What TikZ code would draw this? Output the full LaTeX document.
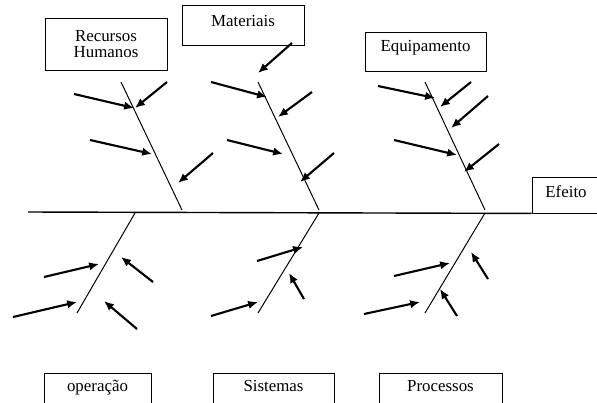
\documentclass[tikz,border=0pt]{standalone}
\usepackage{fontspec}
\setmainfont{Liberation Serif}
\usetikzlibrary{arrows.meta}

\tikzset{
    box/.style={draw, line width=0.6pt, rectangle, align=center, inner sep=0pt, font=\fontsize{12}{11.5}\selectfont},
    bone/.style={line width=0.7pt},
    spine/.style={line width=1pt},
    cause/.style={line width=1.5pt, -{Latex[length=7pt, width=6pt]}},
}

\begin{document}
\begin{tikzpicture}[x=0.025cm, y=-0.025cm]
    \useasboundingbox (0, 0) rectangle (597, 402);

    \node[box, minimum width=3.05cm, minimum height=1.3cm] at (106, 44) (rh) {Recursos\\Humanos};
    \node[box, minimum width=3.05cm, minimum height=1.0cm, text depth=0.2cm] at (243, 25) (mat) {Materiais};
    \node[box, minimum width=3.025cm, minimum height=0.975cm, text depth=0.3cm] at (425.5, 51.5) (eq) {Equipamento};
    \node[box, minimum width=1.7cm, minimum height=0.9cm, text depth=0.15cm] at (566, 195) (ef) {Efeito};
    \node[box, minimum width=2.675cm, minimum height=0.8cm, text depth=0.15cm] at (97.5, 389) (op) {operação};
    \node[box, minimum width=3.025cm, minimum height=0.8cm, text depth=0.15cm] at (273.5, 389) (sis) {Sistemas};
    \node[box, minimum width=3.075cm, minimum height=0.8cm, text depth=0.15cm] at (440.5, 389) (pr) {Processos};

    % espinha
    \coordinate (tail) at (28, 212);
    \draw[spine] (tail) -- (ef.south west);

    % ossos
    \coordinate (rhTop) at (121, 82);   \coordinate (rhFoot) at (182, 210);
    \coordinate (matTop) at (258, 82);  \coordinate (matFoot) at (319, 210);
    \coordinate (eqTop) at (425, 82);   \coordinate (eqFoot) at (485, 210);
    \coordinate (opTop) at (135, 213);  \coordinate (opFoot) at (77, 313);
    \coordinate (sisTop) at (319, 213); \coordinate (sisFoot) at (258, 313);
    \coordinate (prTop) at (485, 213);  \coordinate (prFoot) at (425, 313);

    \draw[bone] (rhTop) -- (rhFoot);
    \draw[bone] (matTop) -- (matFoot);
    \draw[bone] (eqTop) -- (eqFoot);
    \draw[bone] (opTop) -- (opFoot);
    \draw[bone] (sisTop) -- (sisFoot);
    \draw[bone] (prTop) -- (prFoot);

    % causas - recursos humanos
    \coordinate (rh1) at (74, 94);    \coordinate (rh1h) at (134, 108);
    \coordinate (rh2) at (167, 82);   \coordinate (rh2h) at (135, 108);
    \coordinate (rh3) at (90, 140);   \coordinate (rh3h) at (152, 154);
    \coordinate (rh4) at (213, 153);  \coordinate (rh4h) at (178, 183);
    \draw[cause] (rh1) -- (rh1h);
    \draw[cause] (rh2) -- (rh2h);
    \draw[cause] (rh3) -- (rh3h);
    \draw[cause] (rh4) -- (rh4h);

    % causas - materiais
    \coordinate (mat1) at (292, 43);  \coordinate (mat1h) at (258, 73);
    \coordinate (mat2) at (211, 82);  \coordinate (mat2h) at (267, 97);
    \coordinate (mat3) at (312, 92);  \coordinate (mat3h) at (278, 117);
    \coordinate (mat4) at (227, 140); \coordinate (mat4h) at (283, 154);
    \coordinate (mat5) at (334, 153); \coordinate (mat5h) at (300, 182);
    \draw[cause] (mat1) -- (mat1h);
    \draw[cause] (mat2) -- (mat2h);
    \draw[cause] (mat3) -- (mat3h);
    \draw[cause] (mat4) -- (mat4h);
    \draw[cause] (mat5) -- (mat5h);

    % causas - equipamento
    \coordinate (eq1) at (378, 86);   \coordinate (eq1h) at (435, 98);
    \coordinate (eq2) at (471, 82);   \coordinate (eq2h) at (440, 107);
    \coordinate (eq3) at (488, 96);   \coordinate (eq3h) at (451, 128);
    \coordinate (eq4) at (394, 140);  \coordinate (eq4h) at (457, 155);
    \coordinate (eq5) at (499, 144);  \coordinate (eq5h) at (464, 172);
    \draw[cause] (eq1) -- (eq1h);
    \draw[cause] (eq2) -- (eq2h);
    \draw[cause] (eq3) -- (eq3h);
    \draw[cause] (eq4) -- (eq4h);
    \draw[cause] (eq5) -- (eq5h);

    % causas - operacao
    \coordinate (op1) at (44, 277);   \coordinate (op1h) at (99, 264);
    \coordinate (op2) at (153, 282);  \coordinate (op2h) at (121, 257);
    \coordinate (op3) at (13, 317);   \coordinate (op3h) at (77, 302);
    \coordinate (op4) at (137, 329);  \coordinate (op4h) at (104, 301);
    \draw[cause] (op1) -- (op1h);
    \draw[cause] (op2) -- (op2h);
    \draw[cause] (op3) -- (op3h);
    \draw[cause] (op4) -- (op4h);

    % causas - sistemas
    \coordinate (sis1) at (257, 261); \coordinate (sis1h) at (303, 247);
    \coordinate (sis2) at (304, 299); \coordinate (sis2h) at (289, 273);
    \coordinate (sis3) at (211, 316); \coordinate (sis3h) at (258, 302);
    \draw[cause] (sis1) -- (sis1h);
    \draw[cause] (sis2) -- (sis2h);
    \draw[cause] (sis3) -- (sis3h);

    % causas - processos
    \coordinate (pr1) at (394, 276);  \coordinate (pr1h) at (450, 263);
    \coordinate (pr2) at (488, 279);  \coordinate (pr2h) at (471, 252);
    \coordinate (pr3) at (364, 314);  \coordinate (pr3h) at (420, 302);
    \coordinate (pr4) at (457, 316);  \coordinate (pr4h) at (440, 289);
    \draw[cause] (pr1) -- (pr1h);
    \draw[cause] (pr2) -- (pr2h);
    \draw[cause] (pr3) -- (pr3h);
    \draw[cause] (pr4) -- (pr4h);
\end{tikzpicture}
\end{document}
